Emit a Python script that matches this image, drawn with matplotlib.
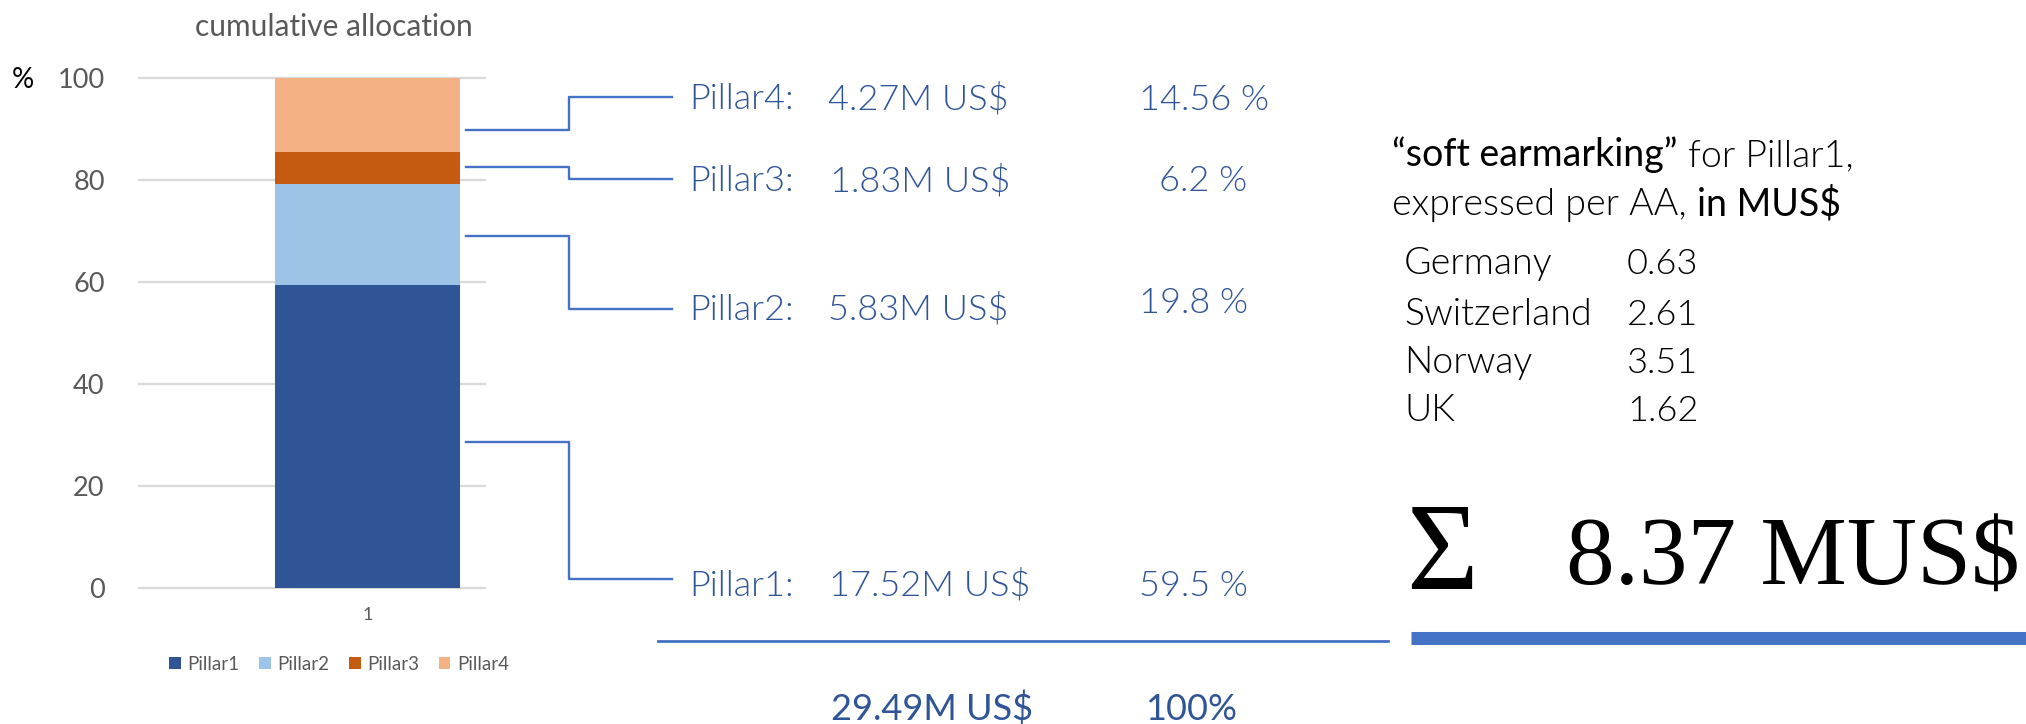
import matplotlib
matplotlib.use("Agg")
import matplotlib.pyplot as plt
from matplotlib.lines import Line2D

# ---------------- data ----------------
categories = ["Pillar1", "Pillar2", "Pillar3", "Pillar4"]
shares_pct = [59.5, 19.8, 6.2, 14.56]
amounts_musd = [17.52, 5.83, 1.83, 4.27]
pct_labels = ["59.5 %", "19.8 %", "6.2 %", "14.56 %"]
total_musd = 29.49
total_pct_label = "100%"
bar_label = "1"
y_ticks = [0, 20, 40, 60, 80, 100]
earmark_countries = ["Germany", "Switzerland", "Norway", "UK"]
earmark_values = [0.63, 2.61, 3.51, 1.62]
earmark_total = 8.37

# ---------------- style ----------------
bar_colors = ["#2F5597", "#9DC3E6", "#C55A11", "#F4B183"]
line_blue = "#4472C4"
text_blue = "#2F5597"
gray = "#595959"
SANS = ["Lato", "DejaVu Sans"]
SERIF = ["Liberation Serif", "DejaVu Serif"]
LIGHT = 300

W, H = 2026, 724
fig = plt.figure(figsize=(W / 100, H / 100), dpi=100)


def fx(px):
    return px / W


def fy(py):
    return 1 - py / H


# ---------------- stacked bar chart ----------------
ax = fig.add_axes([fx(138), fy(588), (486 - 138) / W, (588 - 78) / H])
ax.set_ylim(0, 100)
ax.set_xlim(0.341, 1.341)
bottom = 0.0
bottoms = []
for cat, val, col in zip(categories, shares_pct, bar_colors):
    ax.bar(1, val, width=0.532, bottom=bottom, color=col, label=cat, zorder=3)
    bottoms.append(bottom)
    bottom += val
ax.hlines(y_ticks, 0.341, 1.341, colors="#D9D9D9", lw=1.6, zorder=1, clip_on=False)
for s in ax.spines.values():
    s.set_visible(False)
ax.set_yticks(y_ticks)
ax.set_yticklabels([str(t) for t in y_ticks], fontsize=19.5, color=gray, family=SANS)
ax.set_xticks([1])
ax.set_xticklabels([bar_label], fontsize=13, color=gray, family=SANS)
ax.tick_params(axis="y", length=0, pad=24)
ax.tick_params(axis="x", length=0, pad=14)

fig.text(fx(334), fy(27), "cumulative allocation", ha="center", va="center",
         fontsize=21.5, color=gray, family=SANS)
fig.text(fx(12), fy(80), "%", ha="left", va="center", fontsize=20, color="black", family=SANS)

fig.legend(loc="center", bbox_to_anchor=(fx(339), fy(664)), ncol=4, frameon=False,
           labelcolor=gray, handlelength=0.62, handleheight=0.62,
           handletextpad=0.35, columnspacing=1.05, prop={"family": SANS, "size": 13.5})

# ---------------- connectors + labels ----------------
anchor_frac = [0.48, 0.48, 0.52, 0.30]          # where the leader leaves each segment
row_text_y = [579, 309, 179, 97]                 # leader end level (px from top)
row_base = [596, 320, 191, 109]                  # text baselines
pct_base = [596, 313, 191, 110]
pct_x = [1139, 1139, 1159, 1139]
amount_x = [829, 828, 830, 828]

fig.canvas.draw()
for i, cat in enumerate(categories):
    yd = bottoms[i] + anchor_frac[i] * shares_pct[i]
    disp = ax.transData.transform((1, yd))
    ya = H - disp[1]
    yt = row_text_y[i]
    xs = [466, 569, 569, 672]
    ys = [ya, ya, yt, yt]
    fig.add_artist(Line2D([fx(x) for x in xs], [fy(y) for y in ys],
                          transform=fig.transFigure, color=line_blue, lw=1.7))
    fig.text(fx(689), fy(row_base[i]), f"{cat}:", ha="left", va="baseline",
             fontsize=26, color=text_blue, family=SANS, fontweight=LIGHT)
    fig.text(fx(amount_x[i]), fy(row_base[i]), f"{amounts_musd[i]:.2f}M US$", ha="left",
             va="baseline", fontsize=26, color=text_blue, family=SANS, fontweight=LIGHT)
    fig.text(fx(pct_x[i]), fy(pct_base[i]), pct_labels[i], ha="left", va="baseline",
             fontsize=26, color=text_blue, family=SANS, fontweight=LIGHT)

# total line and totals
fig.add_artist(Line2D([fx(658), fx(1388)], [fy(641), fy(641)], transform=fig.transFigure,
                      color=line_blue, lw=2.0))
fig.text(fx(831), fy(720), f"{total_musd:.2f}M US$", ha="left", va="baseline",
         fontsize=26, color=text_blue, family=SANS)
fig.text(fx(1145), fy(720), total_pct_label, ha="left", va="baseline",
         fontsize=26, color=text_blue, family=SANS)

# ---------------- soft earmarking block ----------------
renderer = fig.canvas.get_renderer()
RB = 27


def chain(x, y, parts, size=RB):
    for txt, wt in parts:
        t = fig.text(fx(x), fy(y), txt, ha="left", va="baseline", fontsize=size,
                     color="black", family=SANS, fontweight=wt)
        bb = t.get_window_extent(renderer)
        x = bb.x1
    return x


chain(1392, 166, [("\u201csoft earmarking\u201d", "normal"), (" for Pillar1,", LIGHT)])
chain(1392, 215, [("expressed per AA, ", LIGHT), ("in MUS$", "normal")])

row_bases = [274, 325, 373, 421]
for c, v, yb in zip(earmark_countries, earmark_values, row_bases):
    fig.text(fx(1404), fy(yb), c, ha="left", va="baseline", fontsize=RB,
             color="black", family=SANS, fontweight=LIGHT)
    fig.text(fx(1627), fy(yb), f"{v:.2f}", ha="left", va="baseline", fontsize=RB - 1,
             color="black", family=SANS, fontweight=LIGHT)

fig.text(fx(1406), fy(589), "\u03a3", ha="left", va="baseline", fontsize=89,
         color="black", family=SERIF)
fig.text(fx(1566), fy(585), f"{earmark_total:.2f} MUS$", ha="left", va="baseline",
         fontsize=70, color="black", family=SERIF)
fig.add_artist(Line2D([fx(1411), fx(2026)], [fy(638), fy(638)], transform=fig.transFigure,
                      color=line_blue, lw=9.4, solid_capstyle="butt"))

fig.savefig("out.png", dpi=100)
